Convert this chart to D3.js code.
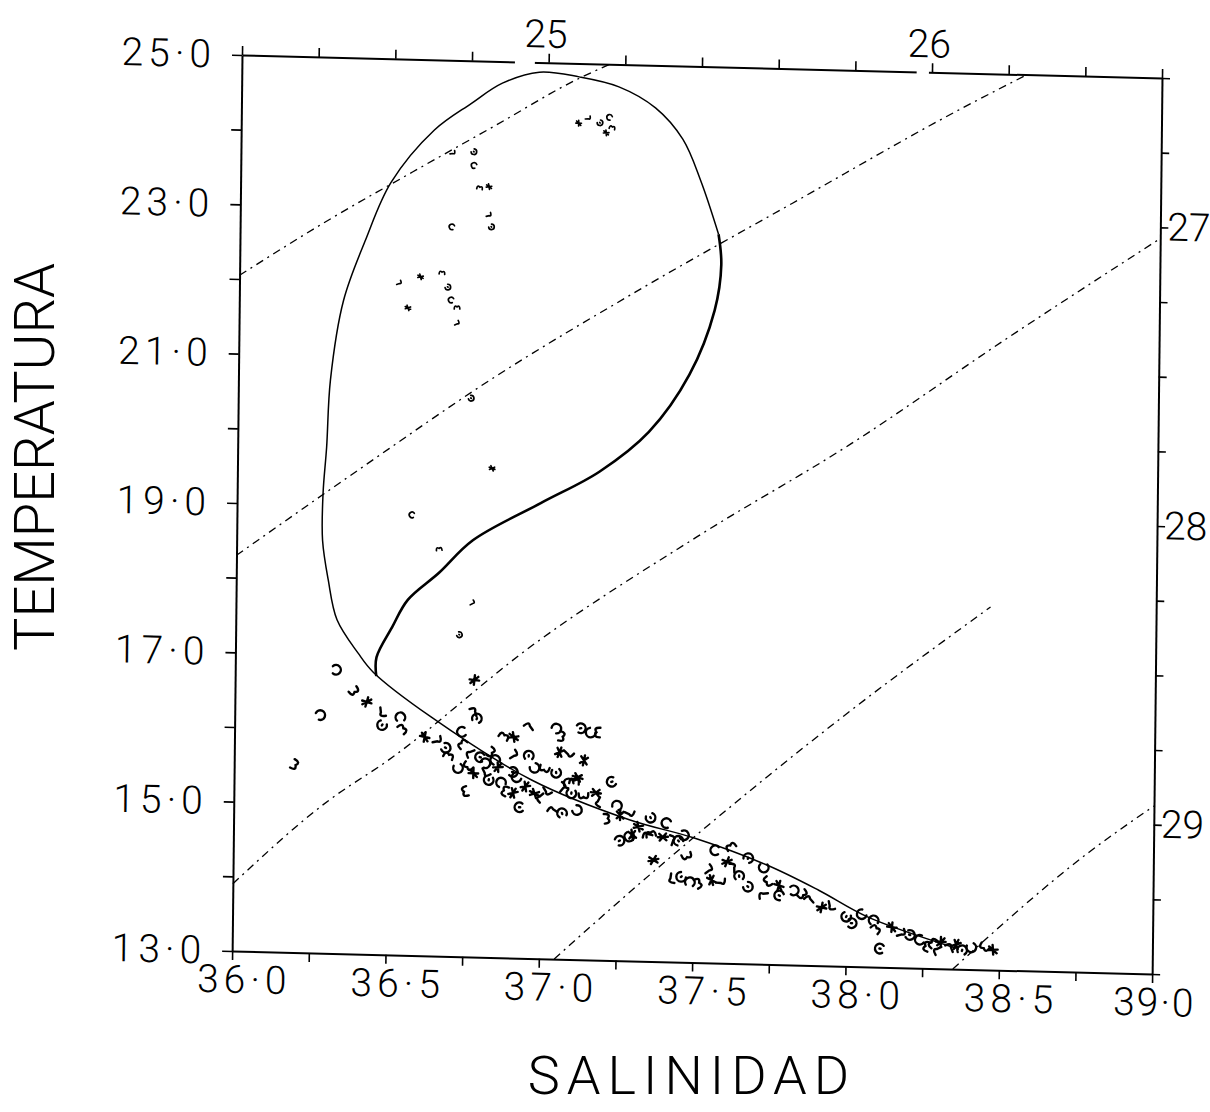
<!DOCTYPE html>
<html>
<head>
<meta charset="utf-8">
<script src="https://d3js.org/d3.v7.min.js"></script>
<style>
  body { margin: 0; background: #fff; }
  svg { display: block; }
</style>
</head>
<body>
<div id="chart"></div>
<script>
// axis ticks and labels
var salinityTicks = d3.range(36, 39.001, 0.25);
var tempTicks = d3.range(13, 25.001, 1);
var sigmaTopLabels = ["25", "26"];
var sigmaTopS = [37.0, 38.25];
var sigmaRightLabels = ["27", "28", "29"];
var sigmaRightT = [23, 19, 15];
var topAxisGaps = [[36.89, 36.955], [38.2, 38.24]];

// isopycnals [salinity, temperature]
var iso25 = [[36.0, 22.05], [36.3, 22.85], [36.56, 23.49], [36.82, 24.12], [37.1, 24.8], [37.2, 25.0]];
var iso26 = [[36.0, 18.3], [36.4, 19.5], [36.82, 20.73], [37.32, 22.03], [37.8, 23.2], [38.35, 24.53], [38.56, 25.0]];
var iso27 = [[36.0, 13.9], [36.31, 15.05], [36.5, 15.6], [36.97, 17.2], [37.5, 18.7], [38.0, 20.0], [38.5, 21.45], [39.0, 22.85]];
var iso28 = [[37.05, 13.0], [37.2, 13.57], [37.72, 15.45], [38.0, 16.4], [38.46, 17.86]];
var iso29 = [[38.35, 13.0], [38.79, 14.61], [39.0, 15.25]];

// mean T-S curve: bold rising branch, then the loop and the lower branch
var curveBold = [[36.46, 16.73], [36.46, 16.98], [36.51, 17.39], [36.56, 17.76], [36.66, 18.13], [36.77, 18.58],
  [36.99, 19.10], [37.18, 19.54], [37.34, 20.09], [37.47, 20.87], [37.55, 21.74], [37.57, 22.35], [37.56, 22.76]];
var curveThin = [[37.56, 22.76], [37.50, 23.47], [37.44, 24.02], [37.35, 24.43], [37.23, 24.70], [37.10, 24.82],
  [36.97, 24.87], [36.85, 24.71], [36.75, 24.43], [36.63, 24.06], [36.49, 23.34], [36.41, 22.57], [36.34, 21.75],
  [36.30, 20.68], [36.29, 19.78], [36.28, 19.16], [36.28, 18.53], [36.30, 18.00], [36.33, 17.47], [36.40, 17.03],
  [36.45, 16.78], [36.64, 16.20], [36.97, 15.39], [37.29, 14.89], [37.50, 14.67], [37.74, 14.33], [37.91, 14.01],
  [38.07, 13.67], [38.36, 13.28]];

// observations
var obsLower = [[36.33,16.80],[36.39,16.51],[36.43,16.38],[36.48,16.25],[36.48,16.07],[36.54,16.19],[36.55,16.04],
  [36.62,15.93],[36.66,15.89],[36.69,15.79],[36.74,16.01],[36.74,15.86],[36.78,16.71],[36.78,16.28],[36.79,16.20],
  [36.73,15.52],[36.76,15.54],[36.78,15.46],[36.77,15.73],[36.80,15.68],[36.82,15.60],[36.84,15.74],[36.86,15.55],
  [36.82,15.48],[36.83,15.37],[36.87,15.35],[36.88,15.98],[36.91,15.96],[36.91,15.72],[36.91,15.49],[36.92,15.42],
  [36.88,15.24],[36.91,15.21],[36.96,16.10],[36.96,15.72],[36.98,15.55],[37.01,15.53],[36.98,15.21],[37.00,15.16],
  [36.93,15.02],[37.05,16.09],[37.07,15.98],[37.06,15.77],[37.09,15.76],[37.05,15.49],[37.09,15.36],[37.11,15.40],
  [37.12,15.44],[37.07,15.30],[37.13,16.10],[37.16,16.04],[37.18,16.05],[37.14,15.67],[37.04,14.99],[37.07,14.96],
  [37.12,15.00],[37.14,15.18],[37.18,15.24],[37.19,15.12],[37.23,15.39],[37.25,15.08],[37.22,14.90],[37.26,14.95],
  [37.29,14.98],[37.36,14.92],[37.41,14.86],[37.36,14.72],[37.40,14.67],[37.43,14.63],[37.26,14.61],[37.29,14.66],
  [36.75,15.21],[37.30,14.69],[37.35,14.69],[37.45,14.63],[37.47,14.70],[37.48,14.41],[37.37,14.36],[37.43,14.12],
  [37.46,14.14],[37.49,14.08],[37.52,14.07],[37.56,14.11],[37.59,14.09],[37.68,14.03],[37.57,14.51],[37.62,14.58],
  [37.61,14.36],[37.63,14.28],[37.68,14.42],[37.73,14.29],[37.74,14.10],[37.78,14.06],[37.73,13.93],[37.78,13.93],
  [37.83,14.00],[37.86,13.94],[37.92,13.78],[37.95,13.81],[38.00,13.66],[38.09,13.63],[38.10,13.52],[38.15,13.54],
  [38.18,13.46],[38.21,13.44],[38.24,13.38],[38.28,13.35],[38.31,13.36],[38.34,13.28],[38.38,13.26],[38.41,13.29],
  [38.45,13.29],[38.48,13.27],[38.30,13.25],[38.11,13.25],[36.28,16.19],[36.20,15.51],
  [36.95,15.30],[37.02,15.25],[37.10,15.22],[36.85,15.65],[36.70,15.70],[37.32,14.80],[37.55,14.25],[38.02,13.58],
  [38.05,13.70],[38.26,13.30],[38.36,13.33],[37.88,13.88],[37.65,14.18]];
var obsUpper = [[37.10,24.20],[37.13,24.27],[37.17,24.21],[37.20,24.29],[37.21,24.16],[37.19,24.08],[36.69,23.76],
  [36.76,23.78],[36.76,23.60],[36.78,23.31],[36.81,23.32],[36.81,22.94],[36.82,22.78],[36.69,22.77],[36.66,22.16],
  [36.59,22.09],[36.52,22.00],[36.68,21.96],[36.69,21.79],[36.71,21.70],[36.55,21.67],[36.71,21.48],[36.76,20.48],
  [36.57,18.90],[36.66,18.46],[36.83,19.55],[36.77,17.74],[36.73,17.31]];

var width = 1210, height = 1112;
var W = 920, H = 896;
var font = "Roboto, 'DejaVu Sans', sans-serif";

var svg = d3.select("#chart").append("svg")
    .attr("width", width)
    .attr("height", height);

var x = d3.scaleLinear().domain([36, 39]).range([0, W]);
var y = d3.scaleLinear().domain([13, 25]).range([H, 0]);

var fmt = function(d) { return d3.format(".1f")(d).replace(".", "\u00B7"); };

// the scanned plot is slightly skewed
var g = svg.append("g")
    .attr("transform", "matrix(1,0.025,-0.011,1,242,55)");

function styleAxis(sel) {
  sel.attr("font-size", 39).attr("font-family", font).attr("font-weight", 300);
  sel.select(".domain").attr("stroke-width", 2);
  sel.selectAll(".tick line").attr("stroke-width", 1.6);
}

// bottom
var xAxis = g.append("g")
    .attr("transform", "translate(0," + H + ")")
    .call(d3.axisBottom(x).tickValues(salinityTicks).tickSize(9).tickSizeOuter(0).tickPadding(5)
      .tickFormat(function(d) { return (d * 2) % 1 === 0 ? fmt(d) : ""; }))
    .call(styleAxis);
xAxis.selectAll("text").attr("letter-spacing", "5px").attr("dx", 12);
xAxis.selectAll(".tick").filter(function(d) { return d === 39; })
  .select("text").attr("letter-spacing", "2px").attr("dx", 2);

// top
var topAxis = g.append("g")
    .call(d3.axisTop(x).tickValues(salinityTicks).tickSize(9).tickSizeOuter(0).tickFormat(""))
    .call(styleAxis);

topAxisGaps.forEach(function(gp) {
  g.append("line")
    .attr("x1", x(gp[0])).attr("x2", x(gp[1]))
    .attr("y1", 0).attr("y2", 0)
    .attr("stroke", "#fff").attr("stroke-width", 5);
});

g.selectAll(".toplabel")
  .data(sigmaTopLabels)
  .join("text")
    .attr("class", "toplabel")
    .attr("x", function(d, i) { return x(sigmaTopS[i]) - 3; })
    .attr("y", -15)
    .attr("text-anchor", "middle")
    .attr("font-family", font).attr("font-weight", 300).attr("font-size", 39)
    .text(function(d) { return d; });

// left
var yAxis = g.append("g")
    .call(d3.axisLeft(y).tickValues(tempTicks).tickSize(10).tickSizeOuter(0).tickPadding(16)
      .tickFormat(function(d) { return d % 2 === 1 ? fmt(d) : ""; }))
    .call(styleAxis);
yAxis.selectAll("text").attr("letter-spacing", "5px");

// right (sigma-t labels where isopycnals meet S = 39)
var rightAxis = g.append("g")
    .attr("transform", "translate(" + W + ",0)")
    .call(d3.axisRight(y).tickValues(tempTicks).tickSize(8).tickSizeOuter(0).tickPadding(-1)
      .tickFormat(function(d) {
        var k = sigmaRightT.indexOf(d);
        return k >= 0 ? sigmaRightLabels[k] : "";
      }))
    .call(styleAxis);

// isopycnals
var isoLine = d3.line()
    .x(function(d) { return x(d[0]); })
    .y(function(d) { return y(d[1]); })
    .curve(d3.curveMonotoneX);

g.selectAll(".iso")
  .data([iso25, iso26, iso27, iso28, iso29])
  .join("path")
    .attr("class", "iso")
    .attr("d", isoLine)
    .attr("fill", "none")
    .attr("stroke", "#000")
    .attr("stroke-width", 1.3)
    .attr("stroke-dasharray", "8 5 2 5");

// T-S curve
var tsLine = d3.line()
    .x(function(d) { return x(d[0]); })
    .y(function(d) { return y(d[1]); })
    .curve(d3.curveCatmullRom.alpha(0.5));

g.append("path")
    .attr("d", tsLine(curveThin))
    .attr("fill", "none")
    .attr("stroke", "#000")
    .attr("stroke-width", 1.5);

g.append("path")
    .attr("d", tsLine(curveBold))
    .attr("fill", "none")
    .attr("stroke", "#000")
    .attr("stroke-width", 2.6);

// observation marks (plotter scribbles)
var glyphs = [
  "M-3,-3 A4,4 0 1,1 -3,3",
  "M-3,-4 Q3,-4 0,0 Q3,4 -3,4",
  "M-4,0 L4,0 M0,-4 L0,4 M-3,-3 L3,3",
  "M-2,-4 Q4,-3 1,0 L0,4",
  "M-3,3 A4,4 0 1,1 3,3 M0,0 L0,1"
];

g.selectAll(".obs")
  .data(obsLower)
  .join("path")
    .attr("class", "obs")
    .attr("d", function(d, i) { return glyphs[i % glyphs.length]; })
    .attr("transform", function(d, i) {
      return "translate(" + x(d[0]) + "," + y(d[1]) + ") rotate(" + ((i * 53) % 360) + ") scale(1.2)";
    })
    .attr("fill", "none")
    .attr("stroke", "#000")
    .attr("stroke-width", 2)
    .attr("stroke-linecap", "round");

g.selectAll(".obsup")
  .data(obsUpper)
  .join("path")
    .attr("class", "obsup")
    .attr("d", function(d, i) { return glyphs[(i + 2) % glyphs.length]; })
    .attr("transform", function(d, i) {
      return "translate(" + x(d[0]) + "," + y(d[1]) + ") rotate(" + ((i * 71) % 360) + ") scale(0.7)";
    })
    .attr("fill", "none")
    .attr("stroke", "#000")
    .attr("stroke-width", 2.4)
    .attr("stroke-linecap", "round");

// axis titles
svg.append("text")
    .attr("transform", "translate(54,457) rotate(-90)")
    .attr("text-anchor", "middle")
    .attr("font-family", font).attr("font-weight", 300).attr("font-size", 56)
    .text("TEMPERATURA");

svg.append("text")
    .attr("x", 692)
    .attr("y", 1094)
    .attr("text-anchor", "middle")
    .attr("font-family", font).attr("font-weight", 300).attr("font-size", 54)
    .attr("letter-spacing", "7px")
    .text("SALINIDAD");
</script>
</body>
</html>
